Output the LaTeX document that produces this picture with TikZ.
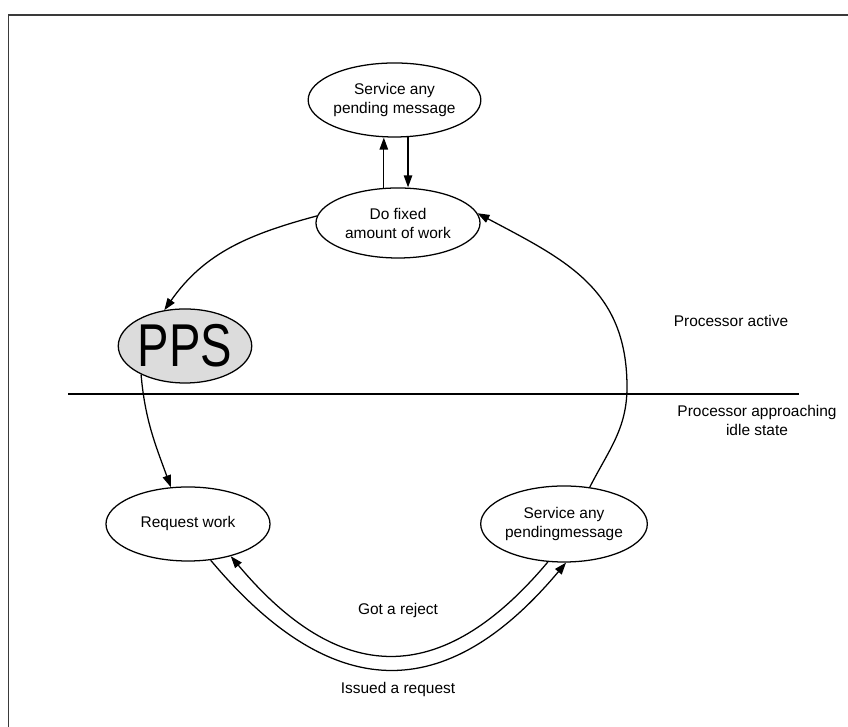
\documentclass[tikz,border=0pt]{standalone}
\usepackage{fontspec}
\setmainfont{Liberation Sans}
\usetikzlibrary{arrows.meta,shapes.geometric}
\definecolor{ppsgray}{HTML}{DCDCDC}
\definecolor{framegray}{HTML}{3A3A3A}

\begin{document}
\begin{tikzpicture}[
  x=0.025cm, y=0.025cm,
  state/.style={draw, ellipse, line width=0.9pt, inner sep=0pt, minimum width=4.1cm, minimum height=1.85cm, align=center, font=\fontsize{11}{13.5}\selectfont},
  arr/.style={-{Triangle[length=8.5pt,width=6pt]}, line width=0.9pt},
  lbl/.style={align=center, font=\fontsize{11}{13.5}\selectfont}
]
  \useasboundingbox (0,0) rectangle (848,727);
  \draw[framegray, line width=1.4pt] (8.5,0) -- (8.5,712) -- (848,712);

  \node[state] (svctop) at (394.5,627) {Service any\\pending message};
  \node[state, minimum height=1.75cm] (fixed) at (398,504) {Do fixed\\amount of work};
  \node[state, fill=ppsgray, minimum width=3.1cm] (pps) at (185,381) {\scalebox{0.78}[1]{\fontsize{43}{43}\selectfont PPS}};
  \node[state] (reqwork) at (188,203) {Request work};
  \node[state, minimum height=1.9cm] (svcbot) at (564,203) {Service any\\pendingmessage};
  \coordinate (arcturn) at (627,340);

  \draw[line width=0.9pt] (68,333) -- (799,333);

  \node[lbl] (active) at (731,406) {Processor active};
  \node[lbl] (approach) at (757,307) {Processor approaching\\idle state};
  \node[lbl] (reject) at (398,116) {Got a reject};
  \node[lbl] (request) at (398,37) {Issued a request};

  \draw[arr] (fixed.112) -- (fixed.112 |- svctop.south);
  \draw[arr] (svctop.290) -- (svctop.290 |- fixed.north);
  \draw[arr] (fixed.175) to[out=195, in=55] (pps.120);
  \draw[arr] (pps.213) to[out=-85, in=110] (reqwork.115);
  \draw[arr] (svcbot.55) to[out=63, in=-90] (arcturn) to[out=90, in=-28, looseness=1.1] (fixed.7);
  \draw[arr] (svcbot.247) to[out=230, in=-50, looseness=1.35] (reqwork.323);
  \draw[arr] (reqwork.302) to[out=-50, in=230, looseness=1.35] (svcbot.273);
\end{tikzpicture}
\end{document}
